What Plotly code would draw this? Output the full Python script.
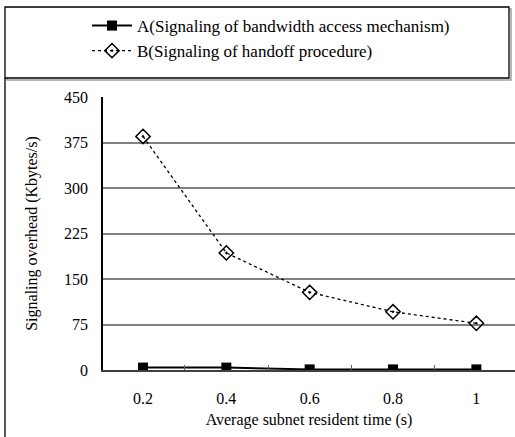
import plotly.graph_objects as go

x_vals = [0.2, 0.4, 0.6, 0.8, 1.0]
x_labels = ["0.2", "0.4", "0.6", "0.8", "1"]
series_a_name = "A(Signaling of bandwidth access mechanism)"
series_a = [4, 4, 1, 1, 1]
series_b_name = "B(Signaling of handoff procedure)"
series_b = [385, 193, 128, 96, 77]
y_ticks = [0, 75, 150, 225, 300, 375, 450]

FONT = "Liberation Serif"

W, H = 515, 437
L, T, B = 103, 97, 67
plot_w = W - L
plot_h = H - T - B


def px(xp):
    return (xp - L) / plot_w


def py(yp):
    return (H - B - yp) / plot_h


fig = go.Figure()
fig.add_trace(go.Scatter(
    x=x_vals, y=series_a, name=series_a_name, mode="lines+markers",
    line=dict(color="black", width=2),
    marker=dict(symbol="square", size=10, color="black"),
))
fig.add_trace(go.Scatter(
    x=x_vals, y=series_b, name=series_b_name, mode="lines+markers",
    line=dict(color="black", width=1.3, dash="dot"),
    marker=dict(symbol="diamond-open-dot", size=11, color="black",
                line=dict(color="black", width=1.5)),
))

shapes = [
    dict(type="rect", xref="paper", yref="paper",
         x0=px(7), x1=px(511), y0=py(80), y1=py(9),
         line=dict(color="#a0a0a0", width=1.5), layer="below"),
    dict(type="rect", xref="paper", yref="paper",
         x0=px(5), x1=px(509), y0=py(78), y1=py(7),
         line=dict(color="black", width=1.3), fillcolor="white", layer="below"),
    dict(type="line", xref="paper", yref="paper",
         x0=px(5), x1=px(5), y0=py(78), y1=py(440),
         line=dict(color="black", width=1.3)),
]

fig.update_layout(
    width=W, height=H,
    margin=dict(l=L, r=0, t=T, b=B),
    paper_bgcolor="white", plot_bgcolor="white",
    font=dict(family=FONT, size=16, color="black"),
    showlegend=True,
    legend=dict(x=px(87), y=py(8), xanchor="left", yanchor="top",
                bgcolor="rgba(0,0,0,0)", borderwidth=0,
                font=dict(family=FONT, size=17, color="black"),
                itemwidth=40, tracegroupgap=9),
    shapes=shapes,
    xaxis=dict(
        range=[0.2 - 40 / 416.7, 0.2 + 372 / 416.7],
        tickvals=x_vals, ticktext=x_labels, ticks="",
        showgrid=False, zeroline=False,
        showline=True, linecolor="#404040", linewidth=1.5,
        ticklabelstandoff=13,
        tickfont=dict(family=FONT, size=16),
        minor=dict(tick0=0.1, dtick=0.2, ticks="inside", ticklen=5,
                   tickcolor="#606060", tickwidth=1, showgrid=False),
        title=dict(text="Average subnet resident time (s)", standoff=8,
                   font=dict(family=FONT, size=16)),
    ),
    yaxis=dict(
        range=[0, 450], tickvals=y_ticks, ticks="",
        showgrid=True, gridcolor="#808080", gridwidth=1.5,
        zeroline=False, showline=True, linecolor="black", linewidth=1.5,
        ticklabelstandoff=10,
        tickfont=dict(family=FONT, size=16),
        title=dict(text="Signaling overhead (Kbytes/s)", standoff=22,
                   font=dict(family=FONT, size=16)),
    ),
)

fig.write_html("out.html", config={"displayModeBar": False},
               post_script="document.body.style.margin='0px';")
